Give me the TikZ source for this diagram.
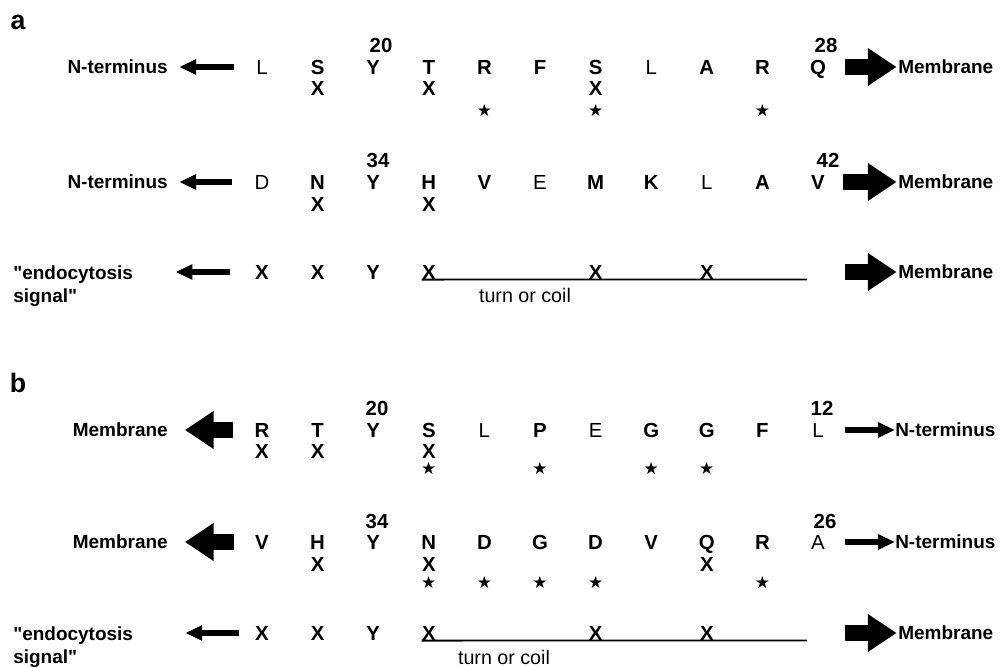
\documentclass[tikz,border=0pt]{standalone}
\usepackage{fontspec}
\setmainfont{Liberation Sans}[Ligatures=TeXOff]
\newfontfamily\symfont{DejaVu Sans}
\usetikzlibrary{arrows.meta,positioning}

\newcommand{\B}[1]{\textbf{#1}}

\begin{document}
\begin{tikzpicture}[x=0.025cm,y=-0.025cm,
  res/.style={inner sep=0pt,text height=10.4pt,text depth=0pt,font=\fontsize{14.5}{16}\selectfont},
  lab/.style={inner sep=0pt,font=\fontsize{13.5}{17}\selectfont\bfseries},
  panel/.style={inner sep=0pt,font=\fontsize{19}{20}\selectfont\bfseries},
  st/.style={inner sep=0pt,font=\symfont\fontsize{12}{12}\selectfont},
  thinarr/.style={line width=4.2pt,-{Triangle[length=0.42cm,width=0.36cm]}},
  fatarr/.style={line width=11pt,-{Triangle[length=0.72cm,width=0.9cm]}},
  coil/.style={line width=1.3pt}]
\useasboundingbox (0,0) rectangle (1006,668);

% panel a
\node[panel] (pa) at (18,22) {a};
\foreach \r [count=\i from 0] in {L,\B{S},\B{Y},\B{T},\B{R},\B{F},\B{S},L,\B{A},\B{R},\B{Q}}
  \node[res] (a1r\i) at ({262+55.6*\i},67) {\r};
\foreach \i in {1,3,6} \node[res] (a1x\i) at ({262+55.6*\i},88) {\B{X}};
\foreach \i in {4,6,9} \node[st] (a1s\i) at ({262+55.6*\i},110) {★};
\node[res] (a1n20) at (381,45) {\B{20}};
\node[res] (a1n28) at (826,45) {\B{28}};
\node[lab,anchor=east] (a1L) at (168,67) {N-terminus};
\node[lab,anchor=west] (a1R) at (898,67) {Membrane};
\draw[thinarr,shorten <=16pt,shorten >=8pt] (a1r0) -- (a1L);
\draw[fatarr,shorten <=13pt,shorten >=1pt] (a1r10) -- (a1R);

\foreach \r [count=\i from 0] in {D,\B{N},\B{Y},\B{H},\B{V},E,\B{M},\B{K},L,\B{A},\B{V}}
  \node[res] (a2r\i) at ({262+55.6*\i},182) {\r};
\foreach \i in {1,3} \node[res] (a2x\i) at ({262+55.6*\i},204) {\B{X}};
\node[res] (a2n34) at (378,160) {\B{34}};
\node[res] (a2n42) at (828,160) {\B{42}};
\node[lab,anchor=east] (a2L) at (168,182) {N-terminus};
\node[lab,anchor=west] (a2R) at (898,182) {Membrane};
\draw[thinarr,shorten <=16pt,shorten >=8pt] (a2r0) -- (a2L);
\draw[fatarr,shorten <=13pt,shorten >=1pt] (a2r10) -- (a2R);

\foreach \r/\i in {\B{X}/0,\B{X}/1,\B{Y}/2,\B{X}/3,\B{X}/6,\B{X}/8}
  \node[res] (aEr\i) at ({262+55.6*\i},272) {\r};
\coordinate (aEend) at (807,279.5);
\draw[coil] (aEr3.south west) -- (aEend);
\node[lab,font=\fontsize{14}{17}\selectfont] (aEc) at (525,295) {turn or coil};
\node[lab,anchor=north west,align=left] (aEL) at (13,265) {"endocytosis\\signal"};
\node[lab,anchor=west] (aER) at (898,272) {Membrane};
\draw[thinarr,shorten <=18pt,shorten >=30pt] (aEr0) -- (aEr0 -| aEL.east);
\draw[fatarr,shorten <=27pt,shorten >=1pt] (aEend |- aER) -- (aER);

% panel b
\node[panel] (pb) at (18,383) {b};
\foreach \r [count=\i from 0] in {\B{R},\B{T},\B{Y},\B{S},L,\B{P},E,\B{G},\B{G},\B{F},L}
  \node[res] (b1r\i) at ({262+55.6*\i},430) {\r};
\foreach \i in {0,1,3} \node[res] (b1x\i) at ({262+55.6*\i},451) {\B{X}};
\foreach \i in {3,5,7,8} \node[st] (b1s\i) at ({262+55.6*\i},468) {★};
\node[res] (b1n20) at (377,408) {\B{20}};
\node[res] (b1n12) at (822,408) {\B{12}};
\node[lab,anchor=east] (b1L) at (168,430) {Membrane};
\node[lab,anchor=west] (b1R) at (895,430) {N-terminus};
\draw[fatarr,shorten <=15pt,shorten >=12pt] (b1r0) -- (b1L);
\draw[thinarr,line width=3.6pt,shorten <=15pt] (b1r10) -- (b1R);

\foreach \r [count=\i from 0] in {\B{V},\B{H},\B{Y},\B{N},\B{D},\B{G},\B{D},\B{V},\B{Q},\B{R},A}
  \node[res] (b2r\i) at ({262+55.6*\i},542) {\r};
\foreach \i in {1,3,8} \node[res] (b2x\i) at ({262+55.6*\i},564) {\B{X}};
\foreach \i in {3,4,5,6,9} \node[st] (b2s\i) at ({262+55.6*\i},582) {★};
\node[res] (b2n34) at (377,521) {\B{34}};
\node[res] (b2n26) at (825,521) {\B{26}};
\node[lab,anchor=east] (b2L) at (168,542) {Membrane};
\node[lab,anchor=west] (b2R) at (895,542) {N-terminus};
\draw[fatarr,shorten <=15pt,shorten >=12pt] (b2r0) -- (b2L);
\draw[thinarr,line width=3.6pt,shorten <=14pt] (b2r10) -- (b2R);

\foreach \r/\i in {\B{X}/0,\B{X}/1,\B{Y}/2,\B{X}/3,\B{X}/6,\B{X}/8}
  \node[res] (bEr\i) at ({262+55.6*\i},633) {\r};
\coordinate (bEend) at (807,640.5);
\draw[coil] (bEr3.south west) -- (bEend);
\node[lab,font=\fontsize{14}{17}\selectfont] (bEc) at (504,657) {turn or coil};
\node[lab,anchor=north west,align=left] (bEL) at (13,626) {"endocytosis\\signal"};
\node[lab,anchor=west] (bER) at (898,633) {Membrane};
\draw[thinarr,shorten <=11pt,shorten >=37pt] (bEr0) -- (bEr0 -| bEL.east);
\draw[fatarr,shorten <=27pt,shorten >=1pt] (bEend |- bER) -- (bER);
\end{tikzpicture}
\end{document}
